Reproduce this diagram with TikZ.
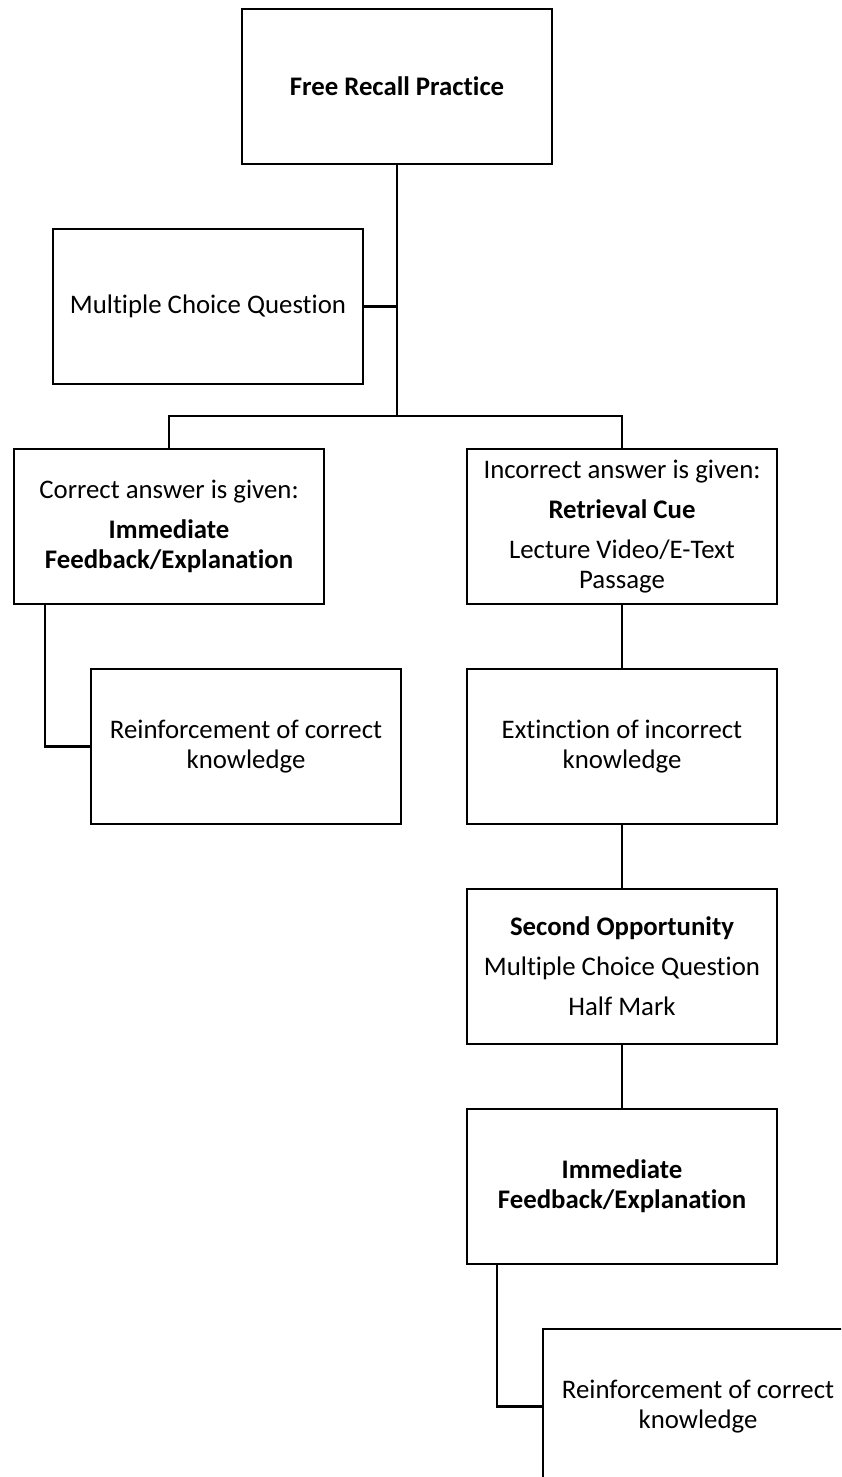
\documentclass[tikz,border=0pt]{standalone}
\usepackage{fontspec}
\setmainfont{Carlito}[Ligatures={NoCommon}]
\usepackage{tikz}
\usetikzlibrary{positioning,calc}

\begin{document}
\begin{tikzpicture}[x=1pt, y=1pt, node distance=65pt,
  box/.style={draw, line width=2.6pt, minimum width=310pt, minimum height=155pt,
    inner sep=0pt, outer sep=0pt, align=center, font=\fontsize{26.8}{30}\selectfont},
  link/.style={line width=2.4pt}]
\useasboundingbox (0,0) rectangle (841,-1477);
\clip (0,0) rectangle (841,-1477);
\node[box] (FR) at (397,-86.5) {\textbf{Free Recall Practice}};
\node[box, below=of FR, xshift=-189pt] (MCQ) {Multiple Choice Question};
\node[box, below=of MCQ, xshift=-39pt] (CA) {Correct answer is given:\\[10pt]\textbf{Immediate}\\\textbf{Feedback/Explanation}};
\node[box, right=143pt of CA] (IA) {Incorrect answer is given:\\[10pt]\textbf{Retrieval Cue}\\[10pt]Lecture Video/E-Text\\Passage};
\node[box, below=of CA, xshift=77pt] (RC1) {Reinforcement of correct\\knowledge};
\node[box, below=of IA] (EX) {Extinction of incorrect\\knowledge};
\node[box, below=of EX] (SO) {\textbf{Second Opportunity}\\[10pt]Multiple Choice Question\\[10pt]Half Mark};
\node[box, below=of SO] (IF) {\textbf{Immediate}\\\textbf{Feedback/Explanation}};
\node[box, below=of IF, xshift=76pt] (RC2) {Reinforcement of correct\\knowledge};
% tree lines
\coordinate (split) at ($(FR.south)+(0,-252)$);
\draw[link] (FR.south) -- (split);
\draw[link] (MCQ.east) -- (MCQ.east -| FR.south);
\draw[link] (CA.north) |- (split) -| (IA.north);
\draw[link] ([xshift=31pt]CA.south west) |- (RC1.west);
\draw[link] (IA) -- (EX); \draw[link] (EX) -- (SO); \draw[link] (SO) -- (IF);
\draw[link] ([xshift=30pt]IF.south west) |- (RC2.west);
\end{tikzpicture}
\end{document}
